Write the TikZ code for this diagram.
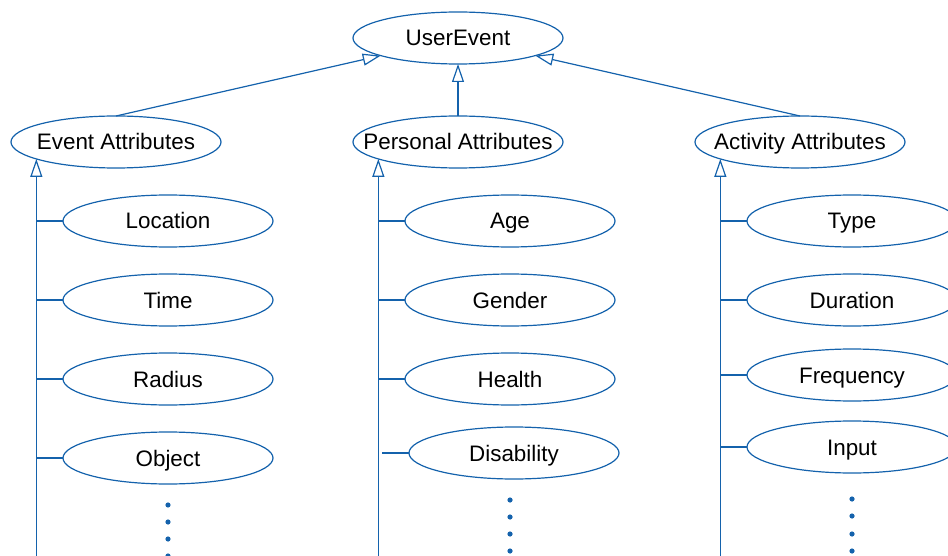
\documentclass[tikz,border=0pt]{standalone}
\usepackage{fontspec}
\setmainfont{Liberation Sans}
\usetikzlibrary{arrows.meta,positioning,shapes.geometric}
\definecolor{umlblue}{RGB}{20,98,172}

\begin{document}
\begin{tikzpicture}[
		x=1pt, y=1pt,
		cls/.style={draw=umlblue, line width=1.2pt, ellipse, minimum width=210pt, minimum height=52pt, inner xsep=-60pt, inner ysep=0pt, outer sep=0pt, text height=18pt, text depth=2pt, font=\fontsize{22.4}{26}\selectfont},
		inh/.style={umlblue, line width=1.2pt, -{Triangle[open, length=18pt, width=12pt]}},
		link/.style={umlblue, line width=1.2pt},
	]
		\useasboundingbox (0,0) rectangle (948,-556);
		\coordinate (bot) at (0,-560);

		\node[cls] (user) at (458,-38) {UserEvent};
		\node[cls, below=52pt of user] (pers) {Personal Attributes};
		\node[cls, left=132pt of pers] (evt) {Event Attributes};
		\node[cls, right=132pt of pers] (act) {Activity Attributes};

		\node[cls, below=27pt of evt, xshift=52pt] (loc) {Location};
		\node[cls, below=27pt of loc] (time) {Time};
		\node[cls, below=27pt of time] (rad) {Radius};
		\node[cls, below=27pt of rad] (obj) {Object};

		\node[cls, below=27pt of pers, xshift=52pt] (age) {Age};
		\node[cls, below=27pt of age] (gen) {Gender};
		\node[cls, below=27pt of gen] (hea) {Health};
		\node[cls, below=22pt of hea, xshift=4pt] (dis) {Disability};

		\node[cls, below=27pt of act, xshift=52pt] (typ) {Type};
		\node[cls, below=27pt of typ] (dur) {Duration};
		\node[cls, below=23pt of dur] (frq) {Frequency};
		\node[cls, below=20pt of frq] (inp) {Input};

		\draw[inh] (evt.north) -- (user);
		\draw[inh] (pers) -- (user);
		\draw[inh] (act.north) -- (user);

		\foreach \g in {evt,pers,act}
			\draw[inh] (\g.192 |- bot) -- (\g.192);

		\foreach \c in {loc,time,rad,obj}
			\draw[link] (\c.west) -- (\c.west -| evt.192);
		\foreach \c in {age,gen,hea}
			\draw[link] (\c.west) -- (\c.west -| pers.192);
		\draw[link] (dis.west) -- ([xshift=4pt]dis.west -| pers.192);
		\foreach \c in {typ,dur,frq,inp}
			\draw[link] (\c.west) -- (\c.west -| act.192);

		% more attributes
		\foreach \d in {21,38,55,72} {
			\fill[umlblue] (obj.south) ++(0,-\d) circle (2.6);
			\fill[umlblue] (dis.south -| hea) ++(0,-\d) circle (2.6);
		}
		\foreach \d in {26,43,61,78}
			\fill[umlblue] (inp.south) ++(0,-\d) circle (2.6);
	\end{tikzpicture}
\end{document}
